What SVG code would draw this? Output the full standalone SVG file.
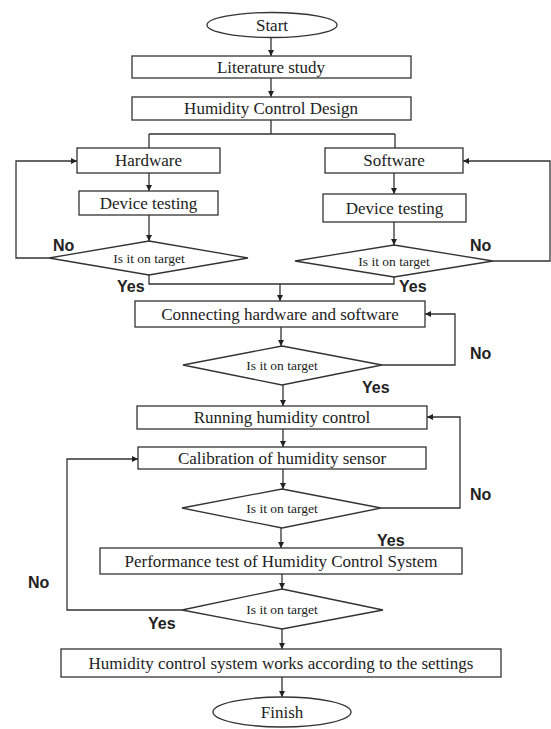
<svg xmlns="http://www.w3.org/2000/svg" width="551" height="729" viewBox="0 0 551 729">
<style>
.box{fill:#fff;stroke:#333;stroke-width:1.3}
.t{font-family:"Liberation Serif","Times New Roman",serif;font-size:17px;fill:#222;text-anchor:middle;dominant-baseline:central}
.d{font-family:"Liberation Serif","Times New Roman",serif;font-size:13.5px;fill:#222;text-anchor:middle;dominant-baseline:central}
.lbl{font-family:"Liberation Sans",Arial,sans-serif;font-size:16px;font-weight:bold;fill:#222}
.c{fill:none;stroke:#333;stroke-width:1.3}
.a{marker-end:url(#ah)}
</style>
<defs>
<marker id="ah" viewBox="0 0 10 10" refX="10" refY="5" markerWidth="7" markerHeight="6" markerUnits="userSpaceOnUse" orient="auto">
<path d="M0,0 L10,5 L0,10 z" fill="#222"/>
</marker>
</defs>
<rect width="551" height="729" fill="#fff"/>
<g id="connectors">
<path class="c a" d="M271,38 V56"/>
<path class="c a" d="M271,78 V97"/>
<path class="c" d="M271,120 V134 M149,134 H395 M149,134 V148 M395,134 V148"/>
<path class="c a" d="M149,173 V191"/>
<path class="c a" d="M394,173 V194"/>
<path class="c a" d="M149,215 V241"/>
<path class="c a" d="M394,222 V245"/>
<path class="c a" d="M49,258 H16 V161 H77"/>
<path class="c a" d="M493,261 H550 V161 H463"/>
<path class="c" d="M149,275 V284 H394 V277"/>
<path class="c a" d="M280,284 V301"/>
<path class="c a" d="M281,327 V346"/>
<path class="c a" d="M382,365 H455 V314 H425"/>
<path class="c a" d="M283,385 V406"/>
<path class="c a" d="M283,429 V447"/>
<path class="c a" d="M283,469 V489"/>
<path class="c a" d="M381,508 H460 V417 H427"/>
<path class="c a" d="M281,528 V548"/>
<path class="c a" d="M282,574 V589"/>
<path class="c a" d="M182,610 H67 V459 H138"/>
<path class="c a" d="M282,629 V649"/>
<path class="c a" d="M282,677 V697"/>
</g>
<g id="start"><ellipse class="box" cx="272" cy="25" rx="65" ry="12.5"/><text class="t" x="272" y="25">Start</text></g>
<g id="literature"><rect class="box" x="132" y="56" width="279" height="22"/><text class="t" x="271" y="67">Literature study</text></g>
<g id="design"><rect class="box" x="132" y="97" width="279" height="23"/><text class="t" x="271" y="108.5">Humidity Control Design</text></g>
<g id="hardware"><rect class="box" x="77" y="148" width="143" height="25"/><text class="t" x="148.5" y="160.5">Hardware</text></g>
<g id="software"><rect class="box" x="325" y="148" width="138" height="25"/><text class="t" x="394" y="160.5">Software</text></g>
<g id="devtest-hw"><rect class="box" x="79" y="191" width="139" height="24"/><text class="t" x="148.5" y="203">Device testing</text></g>
<g id="devtest-sw"><rect class="box" x="323" y="194" width="143" height="28"/><text class="t" x="394.5" y="208">Device testing</text></g>
<g id="dec-hw"><polygon class="box" points="149,241 248,258 149,275 49,258"/><text class="d" x="149" y="258">Is it on target</text></g>
<g id="dec-sw"><polygon class="box" points="394,245 493,261 394,277 295,261"/><text class="d" x="394" y="261">Is it on target</text></g>
<g id="connecting"><rect class="box" x="135" y="301" width="290" height="26"/><text class="t" x="280" y="314">Connecting hardware and software</text></g>
<g id="dec-conn"><polygon class="box" points="282,346 382,365 282,385 183,365"/><text class="d" x="282" y="365">Is it on target</text></g>
<g id="running"><rect class="box" x="137" y="406" width="290" height="23"/><text class="t" x="282" y="417.5">Running humidity control</text></g>
<g id="calibration"><rect class="box" x="138" y="447" width="288" height="22"/><text class="t" x="282" y="458">Calibration of humidity sensor</text></g>
<g id="dec-cal"><polygon class="box" points="282,489 381,508 282,528 182,508"/><text class="d" x="282" y="508">Is it on target</text></g>
<g id="performance"><rect class="box" x="100" y="548" width="362" height="26"/><text class="t" x="281" y="561">Performance test of Humidity Control System</text></g>
<g id="dec-perf"><polygon class="box" points="282,589 383,610 282,629 182,610"/><text class="d" x="282" y="609.5">Is it on target</text></g>
<g id="works"><rect class="box" x="61" y="649" width="440" height="28"/><text class="t" x="281" y="663">Humidity control system works according to the settings</text></g>
<g id="finish"><ellipse class="box" cx="282" cy="712" rx="69" ry="15"/><text class="t" x="282" y="712">Finish</text></g>
<g id="labels">
<text class="lbl" x="53" y="251">No</text>
<text class="lbl" x="117" y="292">Yes</text>
<text class="lbl" x="470" y="251">No</text>
<text class="lbl" x="399" y="292">Yes</text>
<text class="lbl" x="470" y="359">No</text>
<text class="lbl" x="362" y="393">Yes</text>
<text class="lbl" x="470" y="500">No</text>
<text class="lbl" x="377" y="546">Yes</text>
<text class="lbl" x="28" y="588">No</text>
<text class="lbl" x="148" y="629">Yes</text>
</g>
</svg>
